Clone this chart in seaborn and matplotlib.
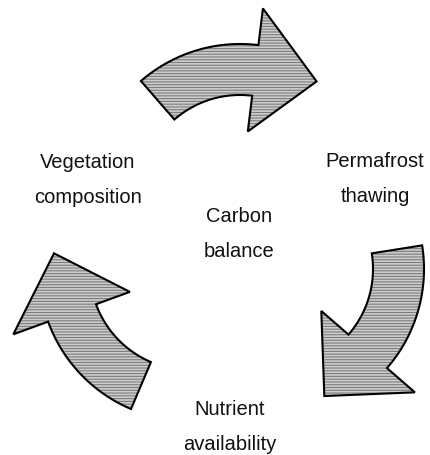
import numpy as np
import matplotlib
matplotlib.use("Agg")
import matplotlib.pyplot as plt
from matplotlib.patches import Polygon
import seaborn as sns

# the four nodes of the cycle
node_labels = ["Vegetation\ncomposition", "Permafrost\nthawing",
               "Carbon\nbalance", "Nutrient\navailability"]

# arrows of the cycle: tail angle -> head angle (degrees, counter-clockwise positive)
arrow_tail = [131, 9, -113]
arrow_head = [83, -41, -160]

sns.set_style("white")
plt.rcParams['font.family'] = ['Liberation Sans', 'DejaVu Sans']

W, H = 430, 455
fig = plt.figure(figsize=(W / 100, H / 100), dpi=100)
ax = fig.add_axes([0, 0, 1, 1])
ax.set_xlim(0, W)
ax.set_ylim(H, 0)
ax.axis("off")

# layout (pixel space)
arrow_centers = [(240, 195), (273, 269), (190, 270)]
r_in, r_out = 100, 151
r_hin, r_hout, r_tip = 64, 188, 137
tip_extra = 27


def arrow_shape(c, a0, a1):
    s = np.sign(a1 - a0)
    a2 = a1 + s * tip_extra
    cx, cy = c

    def pt(r, a):
        t = np.radians(a)
        return cx + r * np.cos(t), cy - r * np.sin(t)

    arc = np.linspace(a0, a1, 60)
    pts = [pt(r_out, a) for a in arc]
    pts += [pt(r_hout, a1), pt(r_tip, a2), pt(r_hin, a1)]
    pts += [pt(r_in, a) for a in arc[::-1]]
    return np.array(pts)


plt.rcParams['hatch.linewidth'] = 0.8
for c, a0, a1 in zip(arrow_centers, arrow_tail, arrow_head):
    xy = arrow_shape(c, a0, a1)
    # gray stippled fill, then the black outline on top
    ax.add_patch(Polygon(xy, closed=True, facecolor="#cdcdcd",
                         edgecolor="#7c7c7c", hatch="------", linewidth=0))
    ax.add_patch(Polygon(xy, closed=True, facecolor="none",
                         edgecolor="black", linewidth=1.5, joinstyle="miter"))

label_pos = [(88, 168), (375, 167), (239, 222), (230, 415)]
for lab, (x, y) in zip(node_labels, label_pos):
    first, second = lab.split("\n")
    ax.text(x, y, first, ha="center", va="baseline", fontsize=14.5, color="#111111")
    ax.text(x, y + 35, second, ha="center", va="baseline", fontsize=14.5, color="#111111")

fig.savefig("out.png", dpi=100)
